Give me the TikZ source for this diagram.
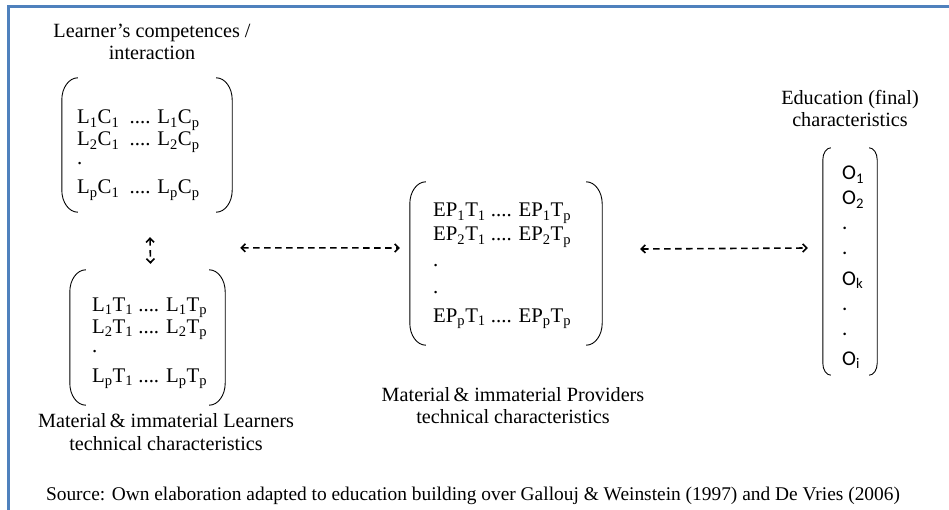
\documentclass[tikz,border=0pt]{standalone}
\usepackage{fontspec}
\setmainfont{Liberation Serif}
\newfontfamily\osans{Carlito}
\usetikzlibrary{arrows.meta}
\definecolor{frameblue}{HTML}{4F81BD}
\newcommand\tsb[1]{\textsubscript{#1}}
% #1 horizontal reach, #2 vertical reach, #3 box node
\newcommand\parens[3]{%
  \draw[brk] ([shift={(#1,0)}]#3.north west) .. controls ([shift={(0.45*#1,0)}]#3.north west) and ([shift={(0,0.45*#2)}]#3.north west) .. ([shift={(0,#2)}]#3.north west)
    -- ([shift={(0,-#2)}]#3.south west) .. controls ([shift={(0,-0.45*#2)}]#3.south west) and ([shift={(0.45*#1,0)}]#3.south west) .. ([shift={(#1,0)}]#3.south west);
  \draw[brk] ([shift={(-#1,0)}]#3.north east) .. controls ([shift={(-0.45*#1,0)}]#3.north east) and ([shift={(0,0.45*#2)}]#3.north east) .. ([shift={(0,#2)}]#3.north east)
    -- ([shift={(0,-#2)}]#3.south east) .. controls ([shift={(0,-0.45*#2)}]#3.south east) and ([shift={(-0.45*#1,0)}]#3.south east) .. ([shift={(-#1,0)}]#3.south east);
}
\begin{document}
\begin{tikzpicture}[x=1pt,y=-1pt,
  txt/.style={inner sep=0pt, anchor=base, font=\fontsize{20.2}{22}\selectfont},
  row/.style={inner sep=0pt, anchor=base west, font=\fontsize{20.8}{23}\selectfont},
  orow/.style={inner sep=0pt, anchor=base west, font=\osans\fontsize{21}{24}\selectfont},
  arr/.style={dash pattern=on 6.5pt off 4.5pt, line width=1.6pt, {Straight Barb[length=4pt,width=8pt]}-{Straight Barb[length=4pt,width=8pt]}},
  brk/.style={line width=0.9pt}
]
\useasboundingbox (0,0) rectangle (949,510);
\fill[white] (0,0) rectangle (949,510);
% frame (top and left sides visible)
\draw[frameblue, line width=2.2pt] (8.5,520) -- (8.5,6.5) -- (960,6.5);

% bracket boxes
\node[inner sep=0pt, minimum width=170, minimum height=134] (M1) at (147,145) {};
\node[inner sep=0pt, minimum width=155, minimum height=135] (M2) at (147.5,337.5) {};
\node[inner sep=0pt, minimum width=192, minimum height=163] (M3) at (506,263.5) {};
\node[inner sep=0pt, minimum width=54, minimum height=227] (M4) at (850,261.5) {};
\parens{16}{22}{M1}
\parens{16}{22}{M2}
\parens{16}{22}{M3}
\parens{8}{12}{M4}

% titles
\node[txt] (t1a) at (152,38) {Learner’s competences /};
\node[txt] (t1b) at (152,60) {interaction};
\node[txt] (t2a) at (166,427) {Material\,\& immaterial Learners};
\node[txt] (t2b) at (166,450) {technical characteristics};
\node[txt] (t3a) at (513,401) {Material\,\& immaterial Providers};
\node[txt] (t3b) at (513,423) {technical characteristics};
\node[txt] (t4a) at (850,105) {Education (final)};
\node[txt] (t4b) at (850,127) {characteristics};
\node[txt, font=\fontsize{19.4}{22}\selectfont] (src) at (473,500) {Source: Own elaboration adapted to education building over Gallouj \& Weinstein (1997) and De Vries (2006)};

% matrix 1
\node[row] (a1) at (77,124) {L\tsb1C\tsb1\ \ .... L\tsb1C\tsb p};
\node[row] (a2) at (77,146) {L\tsb2C\tsb1\ \ .... L\tsb2C\tsb p};
\node[row] (a3) at (77,165) {.};
\node[row] (a4) at (77,194) {L\tsb pC\tsb1\ \ .... L\tsb pC\tsb p};
% matrix 2
\node[row] (b1) at (92,311) {L\tsb1T\tsb1 .... L\tsb1T\tsb p};
\node[row] (b2) at (92,333) {L\tsb2T\tsb1 .... L\tsb2T\tsb p};
\node[row] (b3) at (92,352) {.};
\node[row] (b4) at (92,382) {L\tsb pT\tsb1 .... L\tsb pT\tsb p};
% matrix 3
\node[row] (c1) at (433,217) {EP\tsb1T\tsb1 .... EP\tsb1T\tsb p};
\node[row] (c2) at (433,241) {EP\tsb2T\tsb1 .... EP\tsb2T\tsb p};
\node[row] (c3) at (433,267) {.};
\node[row] (c4) at (433,293) {.};
\node[row] (c5) at (433,322) {EP\tsb pT\tsb1 .... EP\tsb pT\tsb p};
% matrix 4
\node[orow] (d1) at (842,180) {O\tsb1};
\node[orow] (d2) at (842,205) {O\tsb2};
\node[orow] (d3) at (842,230) {.};
\node[orow] (d4) at (842,255) {.};
\node[orow] (d5) at (842,285) {O\tsb k};
\node[orow] (d6) at (842,310) {.};
\node[orow] (d7) at (842,335) {.};
\node[orow] (d8) at (842,365) {O\tsb i};

% connectors
\draw[arr] ([shift={(3,25)}]M1.south) -- ([shift={(3,-6)}]M2.north);
\draw[arr] ([shift={(15,-22)}]M2.north east) -- ([shift={(-10,-15.5)}]M3.west);
\draw[arr] ([shift={(38,-14.5)}]M3.east) -- ([shift={(-15,-13.5)}]M4.west);
\end{tikzpicture}
\end{document}
